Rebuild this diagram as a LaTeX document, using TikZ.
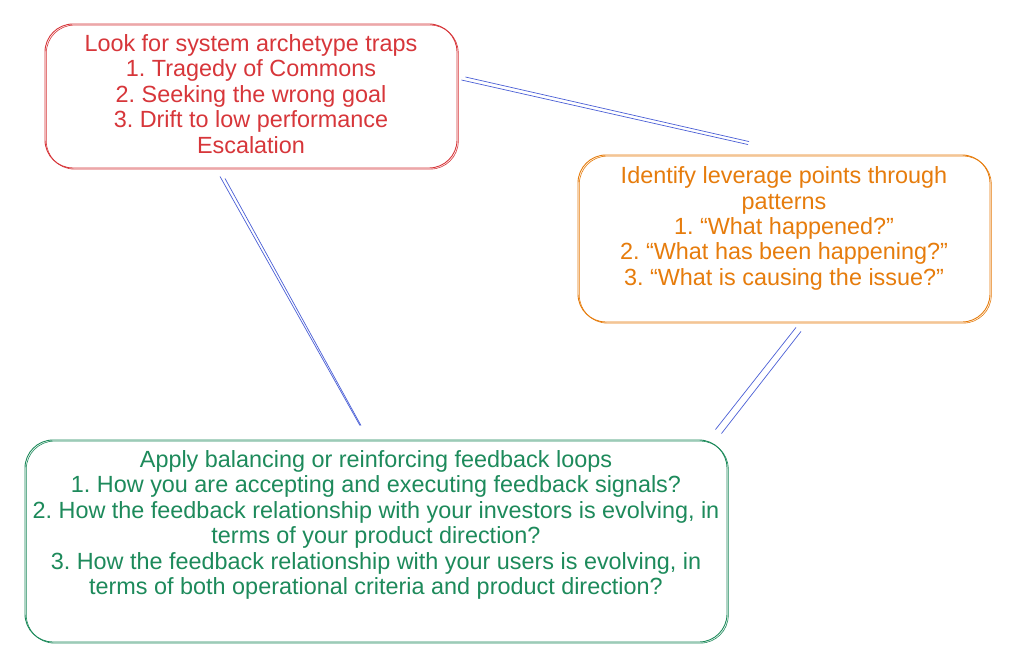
\documentclass[tikz,border=0pt]{standalone}
\usepackage{fontspec}
\setmainfont{Liberation Sans}
\frenchspacing
\usetikzlibrary{calc}
\definecolor{cred}{HTML}{D7363A}
\definecolor{corange}{HTML}{E67C0C}
\definecolor{cgreen}{HTML}{1D8A5B}
\definecolor{cblue}{HTML}{4A5FD6}
\tikzset{
  sketchbox/.style={draw=#1, text=#1, line width=0.9pt, rounded corners=28pt, align=center,
    font=\fontsize{23.4}{25.4}\selectfont, inner sep=0pt,
    postaction={draw=#1, line width=0.6pt, transform canvas={shift={(1.3pt,-1.1pt)}}}},
  link/.style={draw=cblue, line width=0.7pt}
}
\begin{document}
\begin{tikzpicture}[x=1pt,y=-1pt]
\useasboundingbox[fill=white] (0,0) rectangle (1023,666);
\node[sketchbox=cred, minimum width=412pt, minimum height=144pt] (red) at (251,96)
  {Look for system archetype traps\\1. Tragedy of Commons\\2. Seeking the wrong goal\\3. Drift to low performance\\Escalation\par\vspace{4pt}};
\node[sketchbox=corange, minimum width=412pt, minimum height=167pt] (orange) at (784,238.5)
  {Identify leverage points through\\patterns\\1. \textquotedblleft What happened?''\\2. \textquotedblleft What has been happening?''\\3. \textquotedblleft What is causing the issue?''\par\vspace{20pt}};
\node[sketchbox=cgreen, minimum width=702pt, minimum height=202pt] (green) at (376,541)
  {Apply balancing or reinforcing feedback loops\\1. How you are accepting and executing feedback signals?\\2. How the feedback relationship with your investors is evolving, in\\terms of your product direction?\\3. How the feedback relationship with your users is evolving, in\\terms of both operational criteria and product direction?\par\vspace{32pt}};
% connector end points
\coordinate (ro1) at ($(red.east)+(4,-16)$);
\coordinate (ro2) at ($(orange.north)+(-35,-12)$);
\coordinate (rg1) at ($(red.south)+(-31,8)$);
\coordinate (rg2) at ($(green.north)+(-16,-14)$);
\coordinate (og1) at ($(orange.south)+(12,5)$);
\coordinate (og2) at ($(green.north east)+(-11,-10)$);
\draw[link] ($(ro1)+(4,-3)$) -- ($(ro2)+(0,-1)$);
\draw[link] (ro1) -- ($(ro2)+(-1,2)$);
\draw[link] (rg1) -- (rg2);
\draw[link] ($(rg1)+(5,2)$) -- ($(rg2)+(1,0)$);
\draw[link] (og1) -- ($(og2)+(-1,0)$);
\draw[link] ($(og1)+(5,4)$) -- ($(og2)+(5,4)$);
\end{tikzpicture}
\end{document}
